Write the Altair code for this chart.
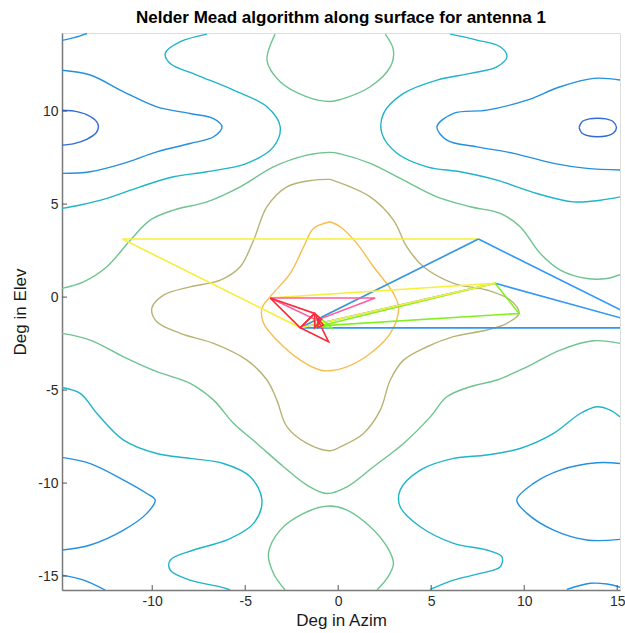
import altair as alt
import pandas as pd

# ---------------------------------------------------------------------------
# Contour lines of the antenna-1 surface (Deg in Azim, Deg in Elev), one list
# of (azim, elev) vertices per contour piece, grouped by contour level 1..6.
# ---------------------------------------------------------------------------
arc_top_left = [(-14.85, 13.8), (-14.2, 13.95), (-13.5, 14.17)]
ellipse_left = [(-14.85, 10.05), (-14.2, 10.0), (-13.5, 9.8), (-13.0, 9.45), (-12.89, 9.16),
                (-13.0, 8.85), (-13.5, 8.5), (-14.2, 8.25), (-14.85, 8.17)]
blue_upper_left = [(-14.85, 12.2), (-13.33, 11.94), (-11.54, 11.04), (-9.75, 10.23), (-7.96, 9.87),
                   (-6.7, 9.6), (-6.25, 9.16), (-6.7, 8.62), (-7.96, 8.26), (-9.75, 7.81),
                   (-11.54, 7.19), (-13.33, 6.74), (-14.85, 6.65)]
teal_upper_left = [(-7.06, 14.14), (-8.49, 13.73), (-9.3, 13.1), (-9.03, 12.56), (-7.6, 11.94),
                   (-5.63, 11.13), (-3.83, 10.23), (-3.12, 9.16), (-3.48, 8.08), (-4.91, 7.19),
                   (-7.06, 6.74), (-8.85, 6.47), (-10.65, 5.93), (-12.44, 5.31), (-13.87, 4.95),
                   (-14.85, 4.77)]
green_top = [(-3.39, 14.14), (-3.83, 12.74), (-3.12, 11.58), (-1.68, 10.77), (-0.43, 10.52),
             (0.11, 10.62), (1.72, 11.31), (2.8, 12.38), (2.97, 13.28), (2.53, 14.14)]
green_upper = [(-14.85, 0.47), (-13.69, 0.82), (-12.44, 1.63), (-11.18, 3.06), (-10.11, 4.14),
               (-8.85, 4.68), (-7.06, 5.12), (-5.27, 5.93), (-3.48, 7.0), (-1.68, 7.63),
               (-0.43, 7.78), (0.11, 7.7), (1.72, 7.19), (3.51, 6.29), (5.31, 5.39),
               (7.1, 4.86), (8.71, 4.5), (9.78, 3.78), (10.86, 2.35), (11.94, 1.45),
               (13.37, 1.0), (14.45, 1.0), (15.15, 1.2)]
olive_ring = [(-0.43, 6.33), (1.72, 5.39), (2.97, 4.14), (3.69, 2.7), (4.59, 1.63), (6.2, 0.74),
              (7.99, 0.38), (9.25, -0.16), (9.72, -0.88), (9.07, -1.41), (7.99, -1.77),
              (6.2, -2.13), (4.77, -2.67), (3.51, -3.39), (2.8, -4.46), (2.26, -6.08),
              (1.36, -7.33), (0.11, -8.05), (-0.43, -8.26), (-1.68, -7.87), (-2.76, -6.97),
              (-3.3, -5.54), (-3.83, -4.46), (-4.91, -3.39), (-6.7, -2.49), (-8.49, -1.95),
              (-9.75, -1.33), (-10.02, -0.6), (-9.39, 0.11), (-7.96, 0.55), (-6.34, 0.91),
              (-5.27, 1.63), (-4.55, 3.06), (-3.83, 4.86), (-2.76, 5.93), (-1.33, 6.29),
              (-0.43, 6.33)]
orange_ring = [(-0.43, 4.05), (0.11, 3.78), (1.0, 2.89), (1.9, 1.63), (2.97, 0.2), (3.25, -0.6),
               (2.8, -1.95), (1.72, -3.03), (0.47, -3.75), (-0.43, -3.96), (-0.97, -3.92),
               (-2.04, -3.39), (-3.3, -2.31), (-4.01, -1.41), (-4.1, -0.6), (-3.66, 0.02),
               (-2.58, 1.27), (-1.86, 2.7), (-1.33, 3.69), (-0.43, 4.05)]
teal_upper_right = [(6.02, 14.14), (7.46, 13.82), (8.71, 13.46), (9.07, 12.92), (8.53, 12.38),
                    (7.1, 12.03), (5.31, 11.67), (3.51, 10.95), (2.44, 9.88), (2.35, 8.8),
                    (3.16, 7.73), (4.77, 7.0), (6.56, 6.74), (8.53, 6.29), (10.68, 5.57),
                    (12.65, 5.12), (14.09, 5.21), (15.15, 5.39)]
blue_upper_right = [(15.15, 11.67), (13.73, 11.76), (11.94, 11.31), (10.15, 10.59), (7.99, 10.05),
                    (6.2, 9.88), (5.31, 9.16), (5.84, 8.44), (7.46, 8.08), (9.43, 7.73),
                    (11.58, 7.19), (13.37, 6.92), (15.15, 6.83)]
ellipse_right = [(12.95, 9.12), (13.1, 9.42), (13.5, 9.58), (13.94, 9.62), (14.4, 9.58),
                 (14.8, 9.42), (14.96, 9.12), (14.8, 8.82), (14.4, 8.66), (13.94, 8.62),
                 (13.5, 8.66), (13.1, 8.82), (12.95, 9.12)]
green_lower = [(-14.85, -1.95), (-13.33, -2.31), (-11.54, -3.21), (-9.75, -4.01), (-7.96, -4.64),
               (-6.7, -5.54), (-5.63, -6.79), (-4.37, -7.87), (-2.94, -9.12), (-1.68, -10.11),
               (-0.61, -10.56), (0.47, -10.2), (1.9, -9.12), (3.51, -7.87), (4.95, -6.44),
               (5.84, -5.36), (7.1, -4.82), (8.53, -4.46), (10.15, -3.75), (11.94, -2.85),
               (13.73, -2.35), (15.15, -2.49)]
teal_lower_left = [(-14.85, -4.86), (-13.87, -5.18), (-12.97, -6.26), (-11.54, -7.69),
                   (-9.75, -8.41), (-7.96, -8.67), (-6.17, -8.95), (-4.73, -9.66),
                   (-4.1, -10.91), (-4.55, -12.17), (-5.98, -13.06), (-7.78, -13.6),
                   (-9.03, -14.14), (-9.03, -14.68), (-7.96, -15.22), (-6.34, -15.58),
                   (-5.81, -15.75)]
blue_lower_left = [(-14.85, -8.62), (-13.33, -8.95), (-11.54, -9.84), (-10.29, -10.56),
                   (-9.84, -10.91), (-10.29, -11.63), (-11.54, -12.53), (-13.33, -13.33),
                   (-14.85, -13.6)]
arc_bottom_left = [(-14.85, -14.95), (-13.69, -15.22), (-12.53, -15.75)]
green_bottom = [(-2.85, -15.75), (-3.48, -14.86), (-3.75, -13.78), (-3.12, -12.53),
                (-1.86, -11.63), (-0.61, -11.24), (0.47, -11.45), (1.72, -12.35),
                (2.62, -13.42), (2.97, -14.32), (2.62, -15.13), (2.08, -15.75)]
teal_lower_right = [(4.95, -15.72), (6.2, -15.22), (7.63, -14.86), (8.71, -14.5), (8.8, -13.96),
                    (7.99, -13.6), (6.2, -13.24), (4.41, -12.35), (3.33, -11.27),
                    (3.33, -10.38), (4.41, -9.3), (6.2, -8.67), (7.99, -8.49), (9.78, -8.14),
                    (11.58, -7.33), (13.01, -6.26), (13.91, -5.9), (14.62, -6.08),
                    (15.15, -6.44)]
blue_lower_right = [(15.15, -8.95), (13.91, -8.91), (11.94, -9.3), (10.5, -10.02), (9.6, -10.91),
                    (10.15, -11.63), (11.58, -12.53), (13.37, -13.06), (15.15, -13.03)]
arc_bottom_right = [(12.29, -15.72), (13.55, -15.39), (14.45, -15.43), (15.15, -15.6)]

contour_pieces = [
    (1, ellipse_left), (1, ellipse_right),
    (2, arc_top_left), (2, blue_upper_left), (2, blue_upper_right), (2, blue_lower_left),
    (2, arc_bottom_left), (2, blue_lower_right), (2, arc_bottom_right),
    (3, teal_upper_left), (3, teal_upper_right), (3, teal_lower_left), (3, teal_lower_right),
    (4, green_top), (4, green_upper), (4, green_lower), (4, green_bottom),
    (5, olive_ring),
    (6, orange_ring),
]
level_names = [1, 2, 3, 4, 5, 6]
level_colors = ["#2f6bd9", "#2490e0", "#1fb4c8", "#6dc48f", "#b9b274", "#f8bd4e"]

# ---------------------------------------------------------------------------
# Nelder-Mead simplex history (closed triangles), in drawing order.
# ---------------------------------------------------------------------------
simplex_steps = [
    ("yellow", [(-11.6, 3.12), (7.54, 3.12), (-2.04, -1.65)]),
    ("blue",   [(7.54, 3.12), (17.1, -1.65), (-2.04, -1.65)]),
    ("blue",   [(8.44, 0.74), (17.1, -1.65), (-2.04, -1.65)]),
    ("green",  [(8.44, 0.74), (9.72, -0.88), (-1.0, -1.55)]),
    ("yellow", [(8.44, 0.74), (-3.66, -0.05), (-2.04, -1.65)]),
    ("pink",   [(-3.66, -0.05), (1.99, -0.05), (-1.15, -1.24)]),
    ("red",    [(-3.66, -0.05), (-1.27, -0.88), (-2.04, -1.65)]),
    ("red",    [(-2.04, -1.65), (-1.27, -0.88), (-0.52, -2.4)]),
    ("green",  [(-1.27, -0.88), (-0.34, -1.65), (-1.2, -1.55)]),
    ("red",    [(-1.27, -0.88), (-1.27, -1.65), (-0.9, -1.2)]),
    ("red",    [(-1.09, -1.15), (-1.09, -1.65), (-0.8, -1.5)]),
]
step_names = ["yellow", "blue", "green", "pink", "red"]
step_colors = ["#f7ef3a", "#3196f5", "#84f020", "#ff5ca0", "#fa2a3a"]

x_ticks = [-10, -5, 0, 5, 10, 15]
y_ticks = [-15, -10, -5, 0, 5, 10]
x_domain = [-14.85, 15.15]
y_domain = [-15.75, 14.2]

# ---------------------------------------------------------------------------
W, H = 558, 557
FONT = "Liberation Sans"

contour_rows = []
for cid, (lvl, pts) in enumerate(contour_pieces):
    for k, (px, py) in enumerate(pts):
        contour_rows.append({"cid": cid, "level": lvl, "k": k, "az": px, "el": py})
contour_df = pd.DataFrame(contour_rows)

simplex_rows = []
for sid, (col, tri) in enumerate(simplex_steps):
    closed = tri + [tri[0]]
    for k, (px, py) in enumerate(closed):
        simplex_rows.append({"sid": sid, "step": col, "k": k, "az": px, "el": py})
simplex_df = pd.DataFrame(simplex_rows)

xs = alt.Scale(domain=x_domain, nice=False, zero=False)
ys = alt.Scale(domain=y_domain, nice=False, zero=False)

label_expr = "datum.value < 0 ? '-' + abs(datum.value) : '' + datum.value"
common_axis = dict(grid=False, tickSize=0, labelExpr=label_expr, labelPadding=4,
                   labelFont=FONT, labelFontSize=14, labelColor="#2b2b2b",
                   titleFont=FONT, titleFontSize=17, titleFontWeight="normal",
                   titleColor="#1a1a1a", titleBaseline="alphabetic",
                   domainColor="#7a7a7a", domainWidth=1.5)
x_axis = alt.Axis(values=x_ticks, title="Deg in Azim", titleX=W / 2, titleY=35,
                  titleAngle=0, **common_axis)
y_axis = alt.Axis(values=y_ticks, title="Deg in Elev", titleX=-37, titleY=H / 2,
                  titleAngle=270, **common_axis)

contours = alt.Chart(contour_df).mark_line(
    strokeWidth=1.4, interpolate="catmull-rom", clip=True
).encode(
    x=alt.X("az:Q", scale=xs, axis=x_axis),
    y=alt.Y("el:Q", scale=ys, axis=y_axis),
    detail="cid:N",
    order="k:Q",
    color=alt.Color("level:O", scale=alt.Scale(domain=level_names, range=level_colors),
                    legend=None),
)

simplex = alt.Chart(simplex_df).mark_line(strokeWidth=1.6, clip=True).encode(
    x=alt.X("az:Q", scale=xs),
    y=alt.Y("el:Q", scale=ys),
    detail="sid:N",
    order="k:Q",
    color=alt.Color("step:N", scale=alt.Scale(domain=step_names, range=step_colors),
                    legend=None),
)

# inward-pointing tick marks on the two visible axes
xtick_df = pd.DataFrame({"az": x_ticks})
ytick_df = pd.DataFrame({"el": y_ticks})
x_tickmarks = alt.Chart(xtick_df).mark_rule(color="#555555", strokeWidth=1).encode(
    x=alt.X("az:Q", scale=xs), y=alt.value(H - 5), y2=alt.value(H)
)
y_tickmarks = alt.Chart(ytick_df).mark_rule(color="#555555", strokeWidth=1).encode(
    y=alt.Y("el:Q", scale=ys), x=alt.value(0), x2=alt.value(5)
)

chart = alt.layer(contours, simplex, x_tickmarks, y_tickmarks).resolve_scale(
    color="independent"
).properties(
    width=W, height=H,
    title=alt.TitleParams("Nelder Mead algorithm along surface for antenna 1",
                          fontSize=17, fontWeight="bold", font=FONT,
                          color="#000000", anchor="middle", offset=6),
    autosize=alt.AutoSizeParams(type="none"),
    padding={"left": 62, "top": 33, "right": 5, "bottom": 43},
).configure_view(stroke=None).configure(background="white")

chart.save("out.html", embed_options={"renderer": "svg", "actions": False})
